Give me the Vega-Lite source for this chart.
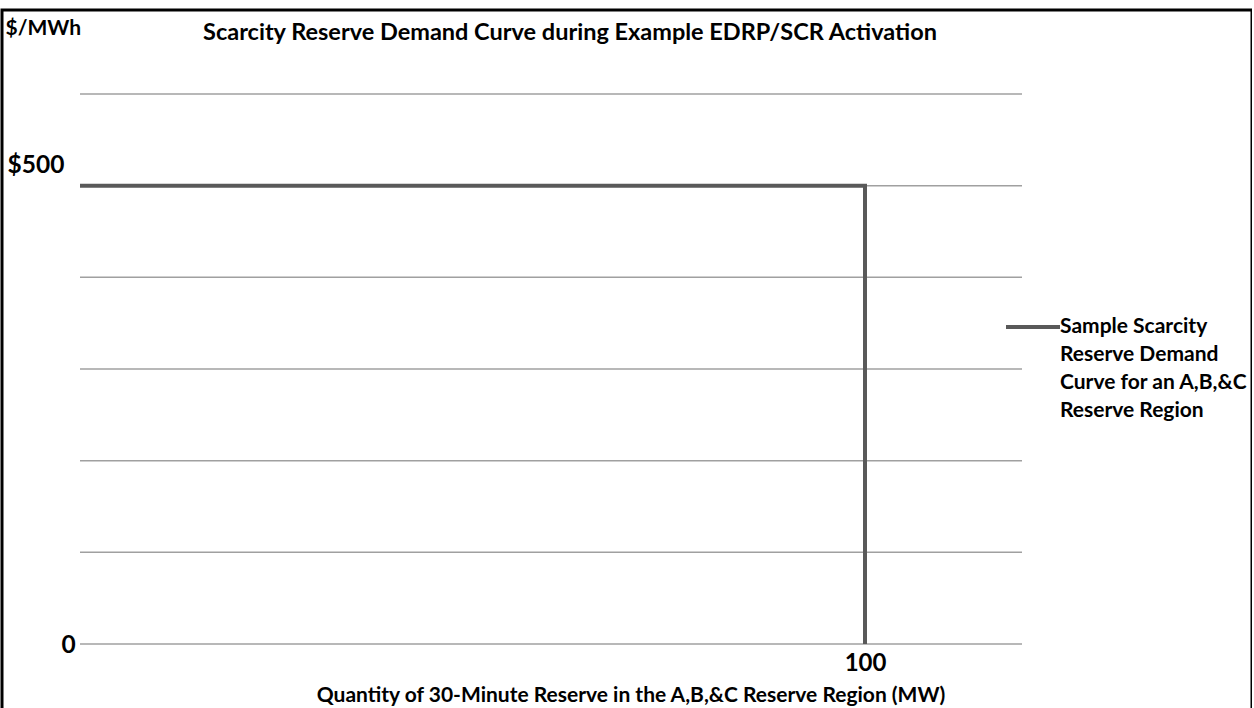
{
  "$schema": "https://vega.github.io/schema/vega-lite/v6.json",
  "width": 1250,
  "height": 720,
  "autosize": {"type": "none"},
  "padding": {"left": 2, "top": 10, "right": 0, "bottom": 0},
  "background": "white",
  "title": {
    "text": "Scarcity Reserve Demand Curve during Example EDRP/SCR Activation",
    "font": "Lato", "fontSize": 23.5, "fontWeight": "bold", "color": "#000000",
    "anchor": "middle", "frame": "group", "orient": "top", "offset": 0,
    "baseline": "alphabetic", "dy": 53, "dx": -57
  },
  "config": {
    "view": {"stroke": "#000000", "strokeWidth": 3},
    "style": {"guide-label": {"lineHeight": 28}}
  },
  "datasets": {
    "grid": [
      {"price": 0}, {"price": 100}, {"price": 200}, {"price": 300},
      {"price": 400}, {"price": 500}, {"price": 600}
    ],
    "curve": [
      {"mw": 0, "price": 500, "step": 1, "series": "Sample Scarcity Reserve Demand Curve for an A,B,&C Reserve Region"},
      {"mw": 100, "price": 500, "step": 2, "series": "Sample Scarcity Reserve Demand Curve for an A,B,&C Reserve Region"},
      {"mw": 100, "price": 0, "step": 3, "series": "Sample Scarcity Reserve Demand Curve for an A,B,&C Reserve Region"}
    ]
  },
  "layer": [
    {
      "data": {"name": "grid"},
      "mark": {"type": "rule", "color": "#a0a0a0", "strokeWidth": 1.5},
      "encoding": {
        "y": {"field": "price", "type": "quantitative"},
        "x": {"datum": 0, "type": "quantitative"},
        "x2": {"datum": 120}
      }
    },
    {
      "data": {"name": "curve"},
      "mark": {"type": "line", "strokeWidth": 4, "strokeJoin": "miter"},
      "encoding": {
        "x": {
          "field": "mw", "type": "quantitative",
          "scale": {"domain": [0, 120], "range": [78, 1020], "nice": false, "zero": false},
          "axis": {
            "orient": "bottom", "offset": -86, "values": [100],
            "domain": false, "ticks": false, "grid": false,
            "labelFont": "Lato", "labelFontSize": 24, "labelFontWeight": "bold", "labelColor": "#000000",
            "labelBaseline": "middle", "labelPadding": 19.5, "labelFlush": false, "labelOverlap": false,
            "title": "Quantity of 30-Minute Reserve in the A,B,&C Reserve Region (MW)",
            "titleFont": "Lato", "titleFontSize": 21, "titleFontWeight": "bold", "titleColor": "#000000",
            "titleX": 628.5, "titleY": 57, "titleAlign": "center", "titleBaseline": "alphabetic"
          }
        },
        "y": {
          "field": "price", "type": "quantitative",
          "scale": {"domain": [0, 600], "range": [634, 84], "nice": false, "zero": false},
          "axis": {
            "orient": "left", "values": [0, 500],
            "domain": false, "ticks": false, "grid": false,
            "labelExpr": "datum.value == 500 ? '$500' : '0'",
            "labelFont": "Lato", "labelFontSize": 24.5, "labelFontWeight": "bold", "labelColor": "#000000",
            "labelAlign": "left", "labelBaseline": "middle", "labelOverlap": false, "labelFlush": false,
            "labelPadding": {"condition": {"test": "datum.value === 500", "value": -5}, "value": -59},
            "labelOffset": {"condition": {"test": "datum.value === 500", "value": -20}, "value": 1},
            "title": "$/MWh",
            "titleFont": "Lato", "titleFontSize": 21, "titleFontWeight": "bold", "titleColor": "#000000",
            "titleAngle": 0, "titleAlign": "left", "titleBaseline": "alphabetic", "titleX": 3, "titleY": 24
          }
        },
        "order": {"field": "step", "type": "quantitative"},
        "color": {
          "field": "series", "type": "nominal",
          "scale": {"range": ["#595959"]},
          "legend": {
            "orient": "none", "legendX": 1002, "legendY": 288, "title": null, "padding": 0,
            "symbolType": "stroke", "symbolSize": 2916, "symbolStrokeWidth": 4,
            "labelOffset": -2, "labelFont": "Lato", "labelFontSize": 21, "labelFontWeight": "bold",
            "labelColor": "#000000", "labelLimit": 0, "labelBaseline": "middle",
            "labelExpr": "['Sample Scarcity', 'Reserve Demand', 'Curve for an A,B,&C', 'Reserve Region']"
          }
        }
      }
    }
  ]
}
